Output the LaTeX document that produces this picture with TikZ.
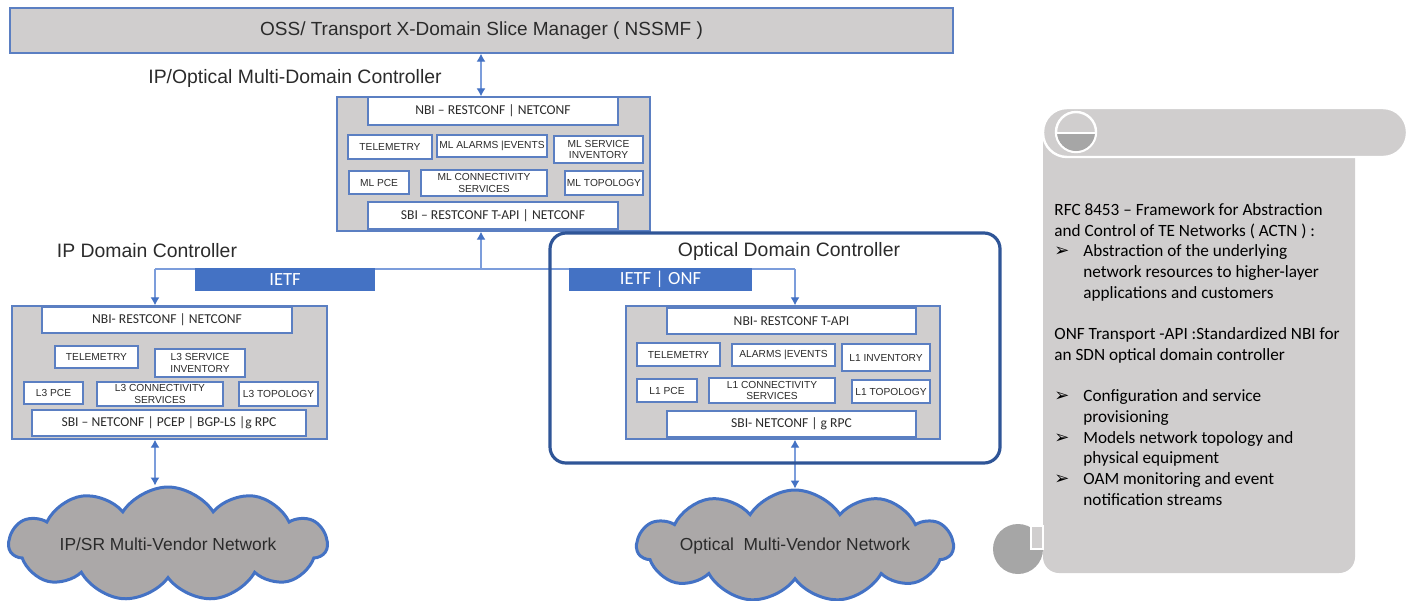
\documentclass[tikz,border=0pt]{standalone}
\usepackage{fontspec}
\setmainfont{Liberation Sans}
\newfontfamily\calfont{Carlito}
\newfontfamily\symfont{DejaVu Sans}
\usetikzlibrary{arrows.meta}
\usetikzlibrary{shapes.symbols}
\usetikzlibrary{positioning}

\definecolor{BoxGray}{HTML}{D0CECE}
\definecolor{BoxBlue}{HTML}{5B7FC2}
\definecolor{FrameBlue}{HTML}{2F5597}
\definecolor{BarBlue}{HTML}{4472C4}
\definecolor{LinkBlue}{HTML}{7C9DDB}
\definecolor{CloudGray}{HTML}{ABA8A8}
\definecolor{CurlGray}{HTML}{A6A6A6}
\definecolor{TextGray}{HTML}{2B2B2B}

\newcommand{\scrollbul}{\makebox[14.5pt][l]{\symfont\fontsize{9}{9}\selectfont ➢}}
\newcommand{\scrollind}{\hspace*{14.5pt}}

\tikzset{
    Ctrl/.style = {rectangle, draw=BoxBlue, fill=BoxGray, line width=0.7pt, inner sep=0pt}
}
\tikzset{
    Blk/.style = {rectangle, draw=BoxBlue, fill=white, line width=0.7pt, inner sep=0pt,
        align=center, font=\fontsize{5.1}{5.6}\selectfont},
    Api/.style = {Blk, font=\calfont\fontsize{6.8}{7}\selectfont},
    Bar/.style = {rectangle, fill=BarBlue, text=white, inner sep=0pt,
        font=\calfont\fontsize{9.3}{10}\selectfont},
    Title/.style = {inner sep=0pt, font=\fontsize{9.7}{11}\selectfont},
    Net/.style = {cloud, cloud puffs=11, cloud puff arc=115, cloud ignores aspect,
        draw=BarBlue, fill=CloudGray, line width=1.5pt, inner sep=0pt,
        font=\fontsize{8.7}{10}\selectfont}
}
\tikzset{
    Link/.style = {draw=LinkBlue, line width=0.6pt, -{Latex[length=4pt,width=4.5pt,color=BarBlue]}},
    Link2/.style = {Link, {Latex[length=4pt,width=4.5pt,color=BarBlue]}-{Latex[length=4pt,width=4.5pt,color=BarBlue]}}
}

\begin{document}
\begin{tikzpicture}[
    x=0.5pt, y=-0.5pt,
    text=TextGray
]
\useasboundingbox (0,0) rectangle (1411,600);

% slice manager
\node[Ctrl, minimum width=471.5pt, minimum height=22.5pt, font=\fontsize{9.5}{11}\selectfont] at (481.5,30.5) (oss) {OSS/ Transport X-Domain Slice Manager ( NSSMF )};

% multi-domain controller
\node[Title] at (295,78) (mdclbl) {IP/Optical Multi-Domain Controller};
\node[Ctrl, minimum width=156.5pt, minimum height=67pt] at (493.5,164) (mdc) {};
\node[Api, minimum width=125pt, minimum height=14pt] at (493,111) (mlnbi) {NBI – RESTCONF | NETCONF};
\node[Blk, minimum width=42pt, minimum height=12pt] at (390,147) (mltel) {TELEMETRY};
\node[Blk, minimum width=55pt, minimum height=11pt] at (492,146) (mlalm) {ML ALARMS |EVENTS};
\node[Blk, minimum width=44.5pt, minimum height=13.5pt] at (598.5,149.5) (mlinv) {ML SERVICE\\INVENTORY};
\node[Blk, minimum width=30pt, minimum height=11.5pt] at (379,182.5) (mlpce) {ML PCE};
\node[Blk, minimum width=63pt, minimum height=13pt] at (484,183) (mlcon) {ML CONNECTIVITY\\SERVICES};
\node[Blk, minimum width=39pt, minimum height=12pt] at (604,183) (mltop) {ML TOPOLOGY};
\node[Api, minimum width=125pt, minimum height=13.5pt] at (493,215.5) (mlsbi) {SBI – RESTCONF T-API | NETCONF};

% ip domain controller
\node[Title] at (147,251) (ipclbl) {IP Domain Controller};
\node[Ctrl, minimum width=157.5pt, minimum height=66.5pt] at (169.5,372.5) (ipc) {};
\node[Api, minimum width=125pt, minimum height=13pt] at (167,320) (ipnbi) {NBI- RESTCONF | NETCONF};
\node[Blk, minimum width=41.5pt, minimum height=11pt] at (96.5,357) (iptel) {TELEMETRY};
\node[Blk, minimum width=45pt, minimum height=14pt] at (200,363) (ipinv) {L3 SERVICE\\INVENTORY};
\node[Blk, minimum width=29.5pt, minimum height=11pt] at (53.5,393) (ippce) {L3 PCE};
\node[Blk, minimum width=63pt, minimum height=12pt] at (160,394) (ipcon) {L3 CONNECTIVITY\\SERVICES};
\node[Blk, minimum width=39.5pt, minimum height=12pt] at (278.5,394) (iptop) {L3 TOPOLOGY};
\node[Api, minimum width=137pt, minimum height=13pt] at (169,423) (ipsbi) {SBI – NETCONF | PCEP | BGP-LS |g RPC};

% optical domain controller
\node[Title] at (789,251) (opclbl) {Optical Domain Controller};
\node[Ctrl, minimum width=157pt, minimum height=66.5pt] at (783,372.5) (opc) {};
\node[Api, minimum width=124.5pt, minimum height=13pt] at (791.5,321) (opnbi) {NBI- RESTCONF T-API};
\node[Blk, minimum width=41.5pt, minimum height=11.5pt] at (678.5,354.5) (optel) {TELEMETRY};
\node[Blk, minimum width=51.5pt, minimum height=11pt] at (783.5,355) (opalm) {ALARMS |EVENTS};
\node[Blk, minimum width=44pt, minimum height=13.5pt] at (886,357.5) (opinv) {L1 INVENTORY};
\node[Blk, minimum width=30pt, minimum height=11.5pt] at (667,390.5) (oppce) {L1 PCE};
\node[Blk, minimum width=63pt, minimum height=12.5pt] at (772,390.5) (opcon) {L1 CONNECTIVITY\\SERVICES};
\node[Blk, minimum width=39pt, minimum height=11.5pt] at (891,391.5) (optop) {L1 TOPOLOGY};
\node[Api, minimum width=124.5pt, minimum height=13pt] at (791.5,424) (opsbi) {SBI- NETCONF | g RPC};

% networks
\node[Net, minimum width=159pt, minimum height=57pt] at (168,544) (ipnet) {IP/SR Multi-Vendor Network};
\node[Net, minimum width=158pt, minimum height=56pt] at (795,546) (opnet) {Optical\ \ Multi-Vendor Network};

% links
\coordinate (busM) at (481,269);
\coordinate (busL) at (155,269);
\coordinate (busR) at (795,269);
\path (oss.south -| busM) edge[Link2] (mdc.north -| busM);
\path (busM) edge[Link] (mdc.south -| busM);
\draw[LinkBlue, line width=0.6pt] (busL) -- (busR);
\path (busL) edge[Link] (ipc.north -| busL);
\path (busR) edge[Link] (opc.north -| busR);
\path (ipc.south -| busL) edge[Link2] (ipnet.north -| busL);
\path (opc.south -| opnet.north) edge[Link2] (opnet.north);

\node[rectangle, rounded corners=8pt, draw=FrameBlue, line width=1.6pt, minimum width=225pt, minimum height=115pt] at (775,348) (opframe) {};
\node[Bar, minimum width=90pt, minimum height=11.5pt] at (285,279.5) (ietf) {IETF};
\node[Bar, minimum width=91.5pt, minimum height=11.5pt] at (660.5,279) (ietfonf) {IETF | ONF};

% scroll
\fill[BoxGray, rounded corners=8pt] (1043,125) -- (1043,573) -- (1355,573) -- (1355,125) -- cycle;
\filldraw[fill=BoxGray, draw=white, line width=1.2pt, rounded corners=12pt] (1043,108) rectangle (1407,157);
\filldraw[fill=BoxGray, draw=white, line width=1.2pt] (1076,132) circle[radius=20];
\begin{scope}
\clip (1050,133) rectangle (1100,160);
\fill[CurlGray] (1076,132) circle[radius=19];
\end{scope}
\draw[white, line width=1.2pt] (1056,133) -- (1096,133);
\fill[CurlGray] (1018,549) circle[radius=25];
\filldraw[fill=BoxGray, draw=white, line width=1pt] (1031,526) rectangle (1043,549);

\node[anchor=north west, inner sep=0pt, align=left, text=black,
    font=\calfont\fontsize{8.6}{10.35}\selectfont] at (1054,203) (actn)
    {RFC 8453 – Framework for Abstraction\\
     and Control of TE Networks ( ACTN ) :\\
     \scrollbul Abstraction of the underlying\\
     \scrollind network resources to higher-layer\\
     \scrollind applications and customers\\[10.35pt]
     ONF Transport -API :Standardized NBI for\\
     an SDN optical domain controller\\[10.35pt]
     \scrollbul Configuration and service\\
     \scrollind provisioning\\
     \scrollbul Models network topology and\\
     \scrollind physical equipment\\
     \scrollbul OAM monitoring and event\\
     \scrollind notification streams};
\end{tikzpicture}
\end{document}
